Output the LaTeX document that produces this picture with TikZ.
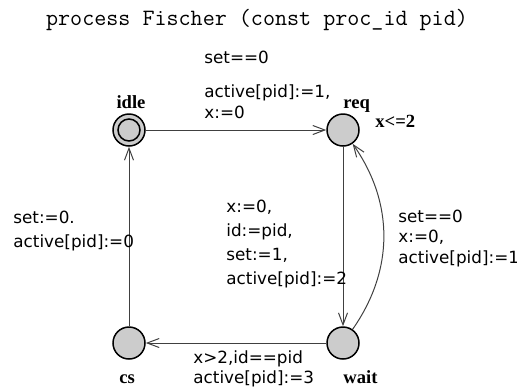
\documentclass[tikz,border=0pt]{standalone}
\usepackage{fontspec}
\newfontfamily\labelfont{DejaVu Sans}
\newfontfamily\namefont{Liberation Serif}
\usetikzlibrary{arrows.meta}

\begin{document}
\begin{tikzpicture}[x=0.5pt,y=-0.5pt,
        locstate/.style={circle, draw=black, line width=0.75pt, fill=clfill, minimum size=16pt, inner sep=0pt},
        trans/.style={draw=cledge, line width=0.5pt, -{Straight Barb[length=6pt,width=4.5pt]}},
        lbl/.style={anchor=base west, align=left, inner sep=0pt, font=\labelfont\fontsize{8.4}{#1}\selectfont},
        lbl/.default=11pt,
        locname/.style={inner sep=0pt, font=\namefont\bfseries\fontsize{9.3}{11}\selectfont}]
            \definecolor{clfill}{HTML}{CCCCCC}
            \definecolor{cledge}{HTML}{404040}
            \useasboundingbox (0,0) rectangle (517,387);
            \node[anchor=base, font=\ttfamily\fontsize{11.7}{14}\selectfont\addfontfeatures{FakeBold=0.8}] (title) at (257,25) {process Fischer (const proc\_id pid)};
            % locations
            \node[locstate] (idle) at (129,130) {};
            \node[locstate] (req)  at (343,130) {};
            \node[locstate] (wait) at (343,343) {};
            \node[locstate] (cs)   at (129,343) {};
            \draw[line width=0.75pt] (idle.center) circle[radius=5.5pt];
            \node[locname, anchor=base]      (nidle) at (131,108) {idle};
            \node[locname, anchor=base west] (nreq)  at (343,108) {req};
            \node[locname, anchor=base west] (inv)   at (375,127) {x<=2};
            \node[locname, anchor=base]      (ncs)   at (127,383) {cs};
            \node[locname, anchor=base west] (nwait) at (343,383) {wait};
            % transitions
            \draw[trans] (idle) -- (req);
            \draw[trans] (req) -- (wait);
            \draw[trans] (wait) to[out=55, in=-55] (req);
            \draw[trans] (wait) -- (cs);
            \draw[trans] (cs) -- (idle);
            % guards and updates (anchored at the last line)
            \node[lbl] (g1) at (204,63)  {set==0};
            \node[lbl=10.5pt] (u1) at (204,118) {active[pid]:=1,\\x:=0};
            \node[lbl=12pt] (u2) at (226,284) {x:=0,\\id:=pid,\\set:=1,\\active[pid]:=2};
            \node[lbl=10.25pt] (u3) at (398,263) {set==0\\x:=0,\\active[pid]:=1};
            \node[lbl=12pt] (u4) at (13,247)  {set:=0.\\active[pid]:=0};
            \node[lbl=10pt] (u5) at (193,383) {x>2,id==pid\\active[pid]:=3};
        \end{tikzpicture}
\end{document}
